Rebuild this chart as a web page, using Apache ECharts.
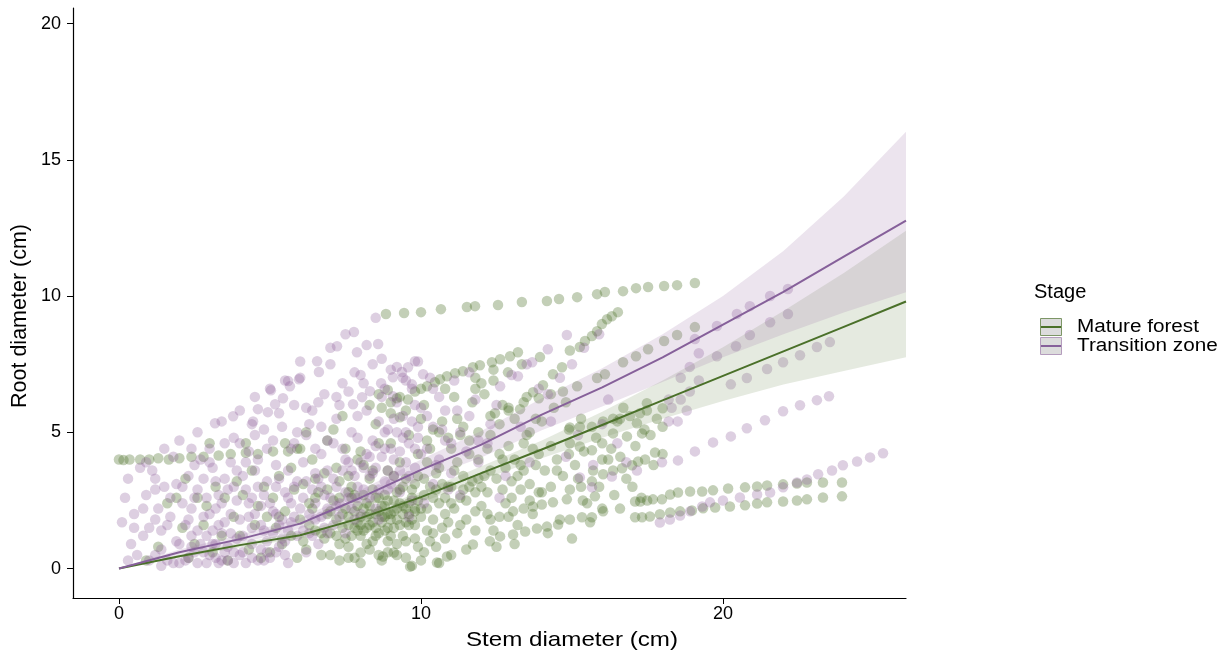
<!DOCTYPE html>
<html><head><meta charset="utf-8">
<script src="https://cdn.jsdelivr.net/npm/echarts@6/dist/echarts.min.js"></script>
<style>html,body{margin:0;padding:0;background:#fff}#c{width:1228px;height:657px}</style>
</head><body><div id="c"></div>
<script>
// ---- data: Mature forest points [stem, root]
const matureForest = [
[0.0,4.0],[0.15,3.98],[0.35,4.0],[0.7,4.0],[1.0,4.0],[1.3,4.05],[1.65,4.0],[2.0,4.05],[2.4,4.1],[2.8,4.1],[3.3,4.15],[3.7,4.2],[4.2,4.25],[4.6,4.2],[5.1,4.3],
[0.9,0.3],[1.3,0.8],[1.6,2.4],[1.9,2.6],[2.1,1.5],[2.3,0.4],[2.5,0.9],[2.6,2.6],[2.8,1.6],[2.9,2.3],[3.1,0.6],[3.2,3.0],[3.4,1.2],[3.5,2.6],[3.6,0.3],[3.8,1.9],[3.9,3.2],[4.0,1.2],[4.1,2.7],[4.3,0.7],[4.4,3.6],[4.5,1.6],[4.6,2.3],[4.7,0.4],[4.8,3.0],[4.9,1.9],[2.2,3.3],[3.0,4.6],[4.2,4.6],
[5.0,0.6],[5.1,2.6],[5.2,1.5],[5.3,3.4],[5.4,0.9],[5.5,2.1],[5.6,4.3],[5.7,1.2],[5.8,2.9],[5.9,0.4],[5.3,1.9],[5.7,3.7],[5.5,4.6],[5.9,4.4],
[6.0,1.8],[6.1,3.1],[6.2,0.7],[6.3,2.4],[6.4,4.0],[6.5,1.4],[6.6,2.8],[6.7,0.5],[6.8,3.5],[6.9,2.0],[6.2,5.0],[6.5,3.3],[6.8,1.1],[6.0,4.4],[6.9,4.7],[6.4,2.2],
[7.0,1.3],[7.1,2.5],[7.2,3.7],[7.3,0.9],[7.4,2.0],[7.5,4.4],[7.6,1.6],[7.7,3.0],[7.8,0.4],[7.9,2.3],[7.1,5.1],[7.3,3.2],[7.5,1.1],[7.7,2.6],[7.9,4.0],[7.2,1.8],[7.4,5.6],[7.6,2.8],[7.8,1.5],[7.0,0.5],[7.5,2.2],[7.9,1.7],
[8.0,1.9],[8.1,1.4],[8.2,2.4],[8.3,3.3],[8.4,1.0],[8.5,2.0],[8.6,4.6],[8.7,1.7],[8.8,2.7],[8.9,0.6],[8.1,3.8],[8.3,1.6],[8.5,5.3],[8.7,2.3],[8.9,3.6],[8.2,0.9],[8.4,2.9],[8.6,1.3],[8.8,1.9],[8.0,4.3],[8.5,2.6],[8.9,1.5],[8.3,6.0],[8.7,0.3],
[9.0,2.0],[9.1,1.5],[9.2,2.8],[9.3,3.9],[9.4,1.2],[9.5,2.2],[9.6,4.9],[9.7,1.8],[9.8,3.1],[9.9,0.8],[9.1,3.4],[9.3,2.4],[9.5,5.8],[9.7,2.6],[9.9,4.2],[9.2,0.5],[9.4,3.0],[9.6,1.6],[9.8,2.1],[9.0,4.6],[9.5,1.0],[9.9,2.5],[9.7,0.1],[9.3,6.3],
[7.6,1.9],[7.8,2.1],[8.0,1.6],[8.2,1.9],[8.4,1.7],[8.6,2.1],[8.8,2.3],[9.0,1.8],[9.2,2.2],[9.4,2.0],[9.6,2.4],[9.8,2.2],[8.1,2.2],[8.5,1.5],[9.1,2.5],[9.5,1.7],[8.3,2.0],[8.9,2.0],[9.3,1.6],[7.9,1.4],
[10.0,2.2],[10.1,3.3],[10.2,1.4],[10.3,4.4],[10.4,2.6],[10.5,0.8],[10.6,3.7],[10.7,5.4],[10.8,2.0],[10.9,3.0],[10.1,6.0],[10.3,1.0],[10.5,2.9],[10.7,1.5],[10.9,4.8],[10.2,3.9],[10.6,0.2],[10.8,6.6],[10.4,5.1],
[11.0,2.4],[11.1,3.6],[11.2,1.3],[11.3,4.9],[11.4,2.9],[11.5,0.7],[11.6,4.2],[11.7,6.1],[11.8,2.1],[11.9,3.3],[11.2,5.5],[11.5,1.8],[11.8,7.0],[11.0,0.5],[11.6,3.0],
[12.0,3.0],[12.2,4.4],[12.4,1.4],[12.6,5.3],[12.8,2.4],[12.1,6.4],[12.3,3.6],[12.5,0.8],[12.7,4.0],[12.9,1.9],[12.4,7.3],[12.9,5.8],
[13.0,3.2],[13.2,1.6],[13.4,4.6],[13.6,2.5],[13.8,5.5],[13.1,0.9],[13.3,3.8],[13.5,6.3],[13.7,2.0],[13.9,4.2],
[14.0,2.8],[14.3,4.5],[14.6,1.8],[14.9,5.1],[15.2,3.3],[15.5,2.4],[15.8,4.8],[14.5,3.6],[15.0,1.1],[15.3,5.5],[15.6,1.7],[15.9,3.0],[14.2,1.3],[14.8,6.1],[16.0,2.2],
[16.2,4.0],[16.5,5.4],[16.8,3.3],[17.1,4.5],[17.4,5.1],[17.7,3.8],[18.0,4.2],[16.4,2.7],[17.0,3.0],[17.6,4.9],[16.7,5.9],[17.3,2.6],
[8.7,5.9],[9.0,6.1],[9.3,5.55],[9.57,6.2],[9.8,6.5],[10.0,6.6],[10.2,6.69],[10.46,6.84],[10.63,6.95],[10.86,7.06],[11.13,7.17],[11.39,7.24],[11.72,7.39],[11.95,7.46],[12.35,7.57],[12.62,7.68],[12.95,7.79],[13.21,7.94],
[11.8,6.6],[12.4,6.9],[12.88,7.2],[13.34,7.5],[13.94,7.76],[8.6,6.4],[8.9,6.55],[9.2,6.25],[9.0,5.7],
[13.28,5.85],[13.71,6.47],[14.04,6.73],[14.37,7.13],[14.67,7.39],[14.93,8.0],[15.26,8.13],[15.43,8.35],[15.66,8.53],[15.83,8.71],[15.99,8.97],[16.16,9.15],[16.32,9.26],[16.52,9.41],
[8.84,9.34],[9.44,9.38],[10.0,9.41],[10.66,9.52],[11.52,9.6],[11.79,9.63],[12.55,9.67],[13.34,9.78],[14.17,9.82],[14.57,9.89],[15.17,9.96],[15.83,10.07],[16.09,10.15],[16.69,10.18],[17.12,10.29],[17.52,10.33],[18.05,10.37],[18.48,10.4],[19.07,10.48],
[12.45,5.7],[12.9,5.9],[13.4,6.1],[13.9,6.25],[14.3,6.4],[14.7,6.5],[15.17,6.69],[15.83,6.99],[16.09,7.13],[16.69,7.57],[17.12,7.79],[17.52,8.05],[18.05,8.35],[18.48,8.57],[19.07,8.86],
[14.93,5.18],[15.26,5.2],[15.66,5.2],[16.03,5.4],[16.36,5.5],[16.59,5.5],[16.92,5.6],[17.25,5.7],[17.48,5.8],[17.81,5.5],[18.0,5.2],[18.0,5.88],[17.48,6.07],[17.15,5.33],[17.32,4.96],[16.82,4.85],[16.36,4.96],[16.0,4.6],[15.66,4.34],[15.26,4.48],[14.93,4.6],
[14.93,2.9],[15.3,3.0],[15.66,3.2],[16.03,3.46],[16.36,3.6],[16.66,3.68],[16.99,3.79],[17.19,3.93],[17.42,4.0],[17.75,4.26],
[17.09,2.46],[17.26,2.46],[17.49,2.5],[17.68,2.54],[17.98,2.54],[18.25,2.72],[18.51,2.79],[18.91,2.83],[19.31,2.83],[19.67,2.87],[20.17,2.94],[20.73,2.98],[21.13,3.01],[21.46,3.05],[21.99,3.09],[22.45,3.12],[22.78,3.16],[23.31,3.16],[23.94,3.16],
[17.09,1.88],[17.32,1.88],[17.58,1.91],[17.91,1.99],[18.25,2.06],[18.58,2.1],[18.97,2.13],[19.34,2.21],[19.74,2.24],[20.23,2.28],[20.73,2.32],[21.13,2.39],[21.46,2.43],[21.99,2.46],[22.45,2.5],[22.78,2.54],[23.31,2.61],[23.94,2.65],
[14.93,1.8],[15.33,1.88],[15.66,1.88],[16.03,2.1],[16.59,2.2],[15.36,2.5],[15.76,2.65],
[9.64,0.07],[10.53,0.22],[10.86,0.44],[11.72,0.88],[12.28,1.0],[12.62,1.18],[13.05,1.25],[13.45,1.36],[13.84,1.47],[14.17,1.54],[14.54,1.62],
[12.3,1.8],[12.6,1.9],[13.05,2.1],[13.4,2.2],[13.71,2.28],[14.0,2.35],[14.37,2.43],[14.83,2.54],
[8.74,0.44],[9.1,0.59],[8.0,0.59],[7.6,0.4],
[6.1,1.0],[6.3,1.6],[6.5,2.6],[6.7,1.3],[6.9,2.9],[7.0,2.1],[7.2,1.2],[7.3,2.6],[7.4,1.5],[7.6,3.4],[7.7,1.2],[7.8,2.7],[8.0,1.2],[8.1,2.7],[8.2,1.5],[8.3,2.3],[8.4,3.6],[8.5,1.2],[8.6,2.6],[8.7,1.9],[8.8,1.4],[8.9,2.5],[9.0,1.2],[9.1,2.1],[9.2,1.8],[9.3,2.9],[9.4,2.3],[9.5,3.3],[9.6,2.0],[9.7,2.9],[9.8,1.6],[9.9,3.4],
[10.0,1.9],[10.1,2.7],[10.2,2.2],[10.3,3.0],[10.4,1.8],[10.5,3.5],[10.6,2.4],[10.7,3.1],[10.8,2.6],[10.9,1.7],[11.0,3.0],[11.1,2.2],[11.2,3.9],[11.3,2.6],[11.4,3.4],[11.5,2.5],[11.6,4.7],[11.7,3.2],[11.8,2.8],[11.9,4.0],
[12.0,2.3],[12.1,3.4],[12.2,2.8],[12.3,4.9],[12.5,3.3],[12.6,4.2],[12.7,2.9],[12.8,3.7],[12.9,4.5],[13.0,2.6],[13.1,4.0],[13.2,3.4],[13.3,2.9],[13.4,3.6],[13.5,4.9],[13.6,3.1],[13.7,4.4],[13.8,3.8],[13.9,2.8],
[14.1,3.6],[14.3,3.0],[14.5,4.0],[14.7,3.4],[14.9,4.2],[15.1,3.8],[15.4,4.3],[15.7,3.6],[16.0,4.0],[16.3,4.4],[16.6,4.1],
[10.2,4.7],[10.6,5.0],[11.0,4.4],[11.4,5.2],[11.9,5.0],[12.3,5.6],[12.7,6.0],[13.1,5.5],[13.6,5.0],[14.0,5.4],[14.4,5.9],[10.0,5.5],[11.1,6.3],[12.0,6.8],
[7.3,0.3],[7.6,0.8],[8.0,0.2],[8.3,0.7],[8.6,0.5],[8.9,1.0],[9.2,0.9],[9.5,0.4],[9.8,1.1],[10.1,0.6],[10.4,1.3],[10.8,1.1],[11.3,1.6],[11.8,1.4],[12.2,2.0],[10.0,0.3]
];
// ---- data: Transition zone points [stem, root]
const transitionZone = [
[0.1,1.7],[0.2,2.6],[0.3,3.3],[0.4,0.9],[0.5,2.0],[0.6,0.5],[0.7,3.7],[0.8,1.2],[0.9,2.7],[0.5,1.5],[0.3,0.3],
[1.1,3.6],[1.2,0.5],[1.3,2.2],[1.4,1.4],[1.5,3.0],[1.6,0.3],[1.7,2.6],[1.8,4.1],[1.9,1.0],[1.2,1.8],[1.5,4.4],[1.8,0.2],[1.6,1.6],
[2.0,4.7],[2.1,2.4],[2.2,0.3],[2.3,3.4],[2.4,1.2],[2.5,0.6],[2.6,2.9],[2.7,4.0],[2.8,1.9],[2.9,0.2],[2.2,1.6],[2.5,3.8],[2.7,0.9],[2.9,2.6],[2.4,2.2],[2.6,5.0],
[3.0,4.4],[3.1,1.4],[3.2,0.4],[3.3,2.7],[3.4,5.4],[3.5,3.3],[3.6,0.8],[3.7,2.0],[3.8,4.8],[3.9,1.1],[3.1,3.7],[3.3,0.2],[3.5,1.7],[3.7,3.9],[3.9,2.5],[3.2,2.2],[3.6,0.3],[3.8,3.0],[3.4,1.3],
[4.0,5.8],[4.1,0.6],[4.2,2.9],[4.3,4.3],[4.4,1.5],[4.5,3.6],[4.6,0.3],[4.7,2.3],[4.8,5.1],[4.9,1.0],[4.1,3.4],[4.3,1.9],[4.5,4.9],[4.7,0.7],[4.9,3.2],[4.2,0.2],[4.4,2.6],[4.6,4.0],[4.8,1.4],[4.5,6.3],
[5.0,6.6],[5.1,2.1],[5.2,3.8],[5.3,0.8],[5.4,5.2],[5.5,2.8],[5.6,1.4],[5.7,4.4],[5.8,6.0],[5.9,3.2],[5.1,4.7],[5.3,1.6],[5.5,0.5],[5.7,2.4],[5.9,5.0],[5.2,3.0],[5.4,1.1],[5.6,3.6],[5.8,1.9],[5.0,0.4],[5.5,6.9],
[6.0,7.0],[6.1,2.6],[6.2,4.9],[6.3,1.3],[6.4,5.8],[6.5,3.5],[6.6,0.9],[6.7,4.2],[6.8,6.4],[6.9,2.2],[6.1,3.9],[6.3,5.3],[6.5,1.8],[6.7,3.0],[6.9,4.7],[6.2,0.6],[6.4,2.9],[6.6,6.1],[6.8,1.5],[6.0,7.6],[6.5,4.4],[6.9,3.6],
[7.0,8.1],[7.1,3.3],[7.2,5.5],[7.3,1.9],[7.4,6.8],[7.5,4.0],[7.6,2.6],[7.7,5.0],[7.8,7.2],[7.9,3.0],[7.1,4.6],[7.3,6.0],[7.5,1.3],[7.7,3.6],[7.9,5.6],[7.2,2.3],[7.4,4.4],[7.6,6.5],[7.8,1.8],[7.5,8.6],[7.0,7.5],[7.9,4.8],
[8.0,7.1],[8.1,3.7],[8.2,5.8],[8.3,2.6],[8.4,7.5],[8.5,4.5],[8.6,1.8],[8.7,6.3],[8.8,3.2],[8.9,5.1],[8.1,6.8],[8.3,4.1],[8.5,2.2],[8.7,7.7],[8.9,2.9],[8.2,8.2],[8.4,3.5],[8.6,5.4],[8.8,6.6],[8.0,2.0],[8.5,9.2],[8.8,4.4],
[9.0,7.3],[9.1,4.0],[9.2,6.1],[9.3,2.8],[9.4,7.0],[9.5,5.0],[9.6,3.4],[9.7,6.6],[9.8,4.4],[9.9,7.6],[9.1,5.5],[9.3,3.6],[9.5,6.9],[9.7,2.5],[9.9,5.2],[9.2,7.4],[9.4,4.8],[9.6,1.9],[9.8,6.0],[9.0,3.1],
[10.0,4.2],[10.2,5.6],[10.4,3.1],[10.6,6.3],[10.8,4.7],[10.1,2.4],[10.3,7.0],[10.5,3.8],[10.7,5.1],[10.9,2.9],[10.4,6.6],
[11.0,3.5],[11.2,5.8],[11.5,4.3],[11.8,6.2],[11.3,2.7],[11.6,7.2],[11.9,3.9],[11.1,6.9],
[12.2,4.6],[12.5,6.0],[12.8,3.4],[13.0,7.1],[13.3,5.2],[13.6,3.9],[13.9,6.6],[12.6,2.6],[13.5,7.5],
[14.2,6.4],[14.6,7.0],[15.0,7.5],[15.4,8.1],[15.9,8.6],[14.3,5.4],[15.2,4.9],[16.0,5.3],[16.5,4.6],[15.7,3.8],[14.8,4.1],[16.2,6.2],[16.8,3.9],
[1.0,0.3],[1.4,0.1],[2.0,0.2],[2.3,0.4],[2.6,0.2],[3.0,0.5],[3.4,0.3],[3.8,0.2],[4.0,0.5],[4.4,0.4],[4.8,0.3],[5.2,0.6],[5.6,0.2],[3.2,0.9],[2.8,0.6],
[7.22,8.16],[6.56,7.61],[6.62,7.21],[5.6,6.88],[5.96,6.95],[5.66,6.69],[5.03,6.54],[5.43,6.25],[5.17,6.03],[4.93,5.74],[4.6,5.85],[3.78,5.59],[4.44,5.4],[3.18,5.33],
[7.78,8.68],[8.58,8.24],[7.88,7.94],[9.8,7.61],[9.57,7.39],[9.37,7.21],[9.07,7.02],[10.07,7.13],[8.68,6.8],[8.31,6.51],[8.05,6.29],[7.75,6.03],[9.07,6.32],[9.7,6.76],
[14.2,8.05],[14.83,8.57],[13.68,7.57],[13.21,7.06],[12.62,6.69],
[17.98,3.9],[18.51,3.97],[19.07,4.3],[19.67,4.63],[20.26,4.85],[20.79,5.15],[21.39,5.44],[21.99,5.77],[22.55,5.99],[23.11,6.18],[23.51,6.32],
[17.91,1.69],[18.24,1.8],[18.58,1.95],[18.91,2.1],[19.31,2.28],[19.57,2.43],[20.0,2.5],[20.56,2.61],[21.13,2.72],[21.56,2.79],[21.99,2.98],[22.45,3.16],[22.78,3.27],[23.15,3.46],[23.61,3.6],[23.97,3.79],[24.44,3.93],[24.87,4.08],[25.3,4.23],
[19.07,8.42],[19.8,8.9],[20.46,9.34],[20.89,9.63],[21.56,10.0],[22.15,10.26],
[19.8,7.79],[20.43,8.16],[20.89,8.57],[21.56,9.04],[22.15,9.34],
[20.26,6.76],[20.79,6.99],[21.46,7.32],[21.99,7.57],[22.55,7.83],[23.11,8.13],[23.54,8.31],
[18.2,6.2],[18.6,6.2],[18.9,6.5],[19.2,6.9],[18.9,7.4],[19.2,7.9],[18.6,7.0],[18.3,5.9],[18.2,5.4],[18.5,5.4],[18.8,5.8],
[15.26,3.34],[15.66,2.98],[16.32,3.38],[17.15,3.6],
[0.8,2.2],[1.0,1.5],[1.2,2.9],[1.4,0.7],[1.7,1.9],[1.9,3.1],[2.0,0.9],[2.1,3.0],[2.3,1.8],[2.4,0.8],[2.5,2.6],[2.6,1.4],[2.8,3.3],[2.9,1.2],[3.0,2.0],[3.1,0.9],[3.2,3.2],[3.3,1.6],[3.4,2.4],[3.5,0.6],[3.6,2.9],[3.7,1.3],[3.8,0.6],[3.9,3.6],
[4.0,1.8],[4.1,1.2],[4.2,3.9],[4.3,2.4],[4.4,0.9],[4.5,2.0],[4.6,3.0],[4.7,1.6],[4.8,2.7],[4.9,0.6],[5.0,2.4],[5.1,1.3],[5.2,2.0],[5.3,3.3],[5.4,1.8],[5.5,1.0],[5.6,2.6],[5.7,1.7],[5.8,3.0],[5.9,1.2],
[6.0,2.2],[6.1,1.4],[6.2,3.2],[6.3,2.0],[6.4,1.2],[6.5,2.4],[6.6,3.3],[6.7,1.9],[6.8,2.7],[6.9,1.3],[7.0,2.6],[7.1,1.6],[7.2,3.0],[7.3,2.4],[7.4,3.6],[7.5,2.8],[7.6,3.9],[7.7,2.2],[7.8,3.4],[7.9,2.6],
[8.0,3.9],[8.1,2.9],[8.2,4.2],[8.3,3.4],[8.4,4.7],[8.5,3.7],[8.6,2.9],[8.7,4.1],[8.8,5.0],[8.9,3.6],[9.0,4.4],[9.1,3.4],[9.2,5.0],[9.3,4.3],[9.4,5.6],[9.5,3.9],[9.6,4.6],[9.7,5.4],[9.8,3.7],[9.9,4.8],
[10.0,5.9],[10.2,4.4],[10.4,5.2],[10.6,4.0],[10.8,5.8],[11.0,4.6],[11.3,5.0],[11.6,5.6],[11.9,4.7],[12.3,5.3],
[3.0,3.9],[3.5,4.6],[4.0,4.6],[4.4,5.3],[4.9,4.4],[5.3,5.7],[5.8,4.6],[6.2,5.9],[6.7,5.2],[7.2,6.3],[2.4,4.4],[1.2,3.3],[0.9,3.9]
];
// ---- fitted curves
const fitX = [0,2,4,6,8,10,12,14,16,18,20,22,24,26.06];
const matureMean  = [0,0.45,0.86,1.22,1.85,2.62,3.5,4.37,5.27,6.17,7.07,7.97,8.87,9.8];
const matureLower = [0,0.4,0.77,1.1,1.7,2.42,3.25,4.05,4.8,5.5,6.15,6.75,7.25,7.75];
const matureUpper = [0,0.5,0.94,1.34,2.0,2.82,3.75,4.7,5.75,6.9,8.12,9.45,10.85,12.4];
const transMean  = [0,0.6,1.08,1.65,2.6,3.62,4.55,5.65,6.65,7.75,8.95,10.15,11.45,12.77];
const transLower = [0,0.5,0.93,1.46,2.33,3.25,4.08,5.08,5.95,6.85,7.75,8.6,9.4,10.14];
const transUpper = [0,0.7,1.24,1.85,2.88,4.0,5.05,6.25,7.35,8.6,10.0,11.65,13.65,16.03];
const xTicks = [0,10,20];
const yTicks = [0,5,10,15,20];
const stages = ['Mature forest','Transition zone'];

const GREEN = '#4a7029', PURPLE = '#86609a';
const FONT = 'Liberation Sans, Arial, sans-serif';

function ribbon(name, lower, upper, fill){
  return {
    type:'custom', name:name, silent:true, z:3, clip:true,
    data:[[0,0]],
    renderItem:function(params, api){
      const pts=[];
      for(let i=0;i<fitX.length;i++) pts.push(api.coord([fitX[i], upper[i]]));
      for(let i=fitX.length-1;i>=0;i--) pts.push(api.coord([fitX[i], lower[i]]));
      return {type:'polygon', shape:{points:pts}, style:{fill:fill}};
    }
  };
}
function line(name, mean, color){
  return {type:'line', name:name, z:4, symbol:'none', smooth:false, silent:true,
    data: fitX.map((x,i)=>[x, mean[i]]), lineStyle:{color:color, width:2, join:'round'}};
}

const chart = echarts.init(document.getElementById('c'), null, {renderer:'canvas'});
chart.setOption({
  animation:false,
  backgroundColor:'#ffffff',
  grid:{left:73, top:8, width:833, height:590, containLabel:false},
  xAxis:{type:'value', min:-1.523, max:26.06,
    axisLine:{onZero:false, lineStyle:{color:'#000', width:1.2}},
    axisTick:{length:6, lineStyle:{color:'#000'}, customValues:xTicks},
    axisLabel:{customValues:xTicks, color:'#000', fontSize:18, fontFamily:FONT, margin:7},
    splitLine:{show:false}},
  yAxis:{type:'value', min:-1.08, max:20.57,
    axisLine:{show:true, onZero:false, lineStyle:{color:'#000', width:1.2}},
    axisTick:{show:true, length:6, lineStyle:{color:'#000'}, customValues:yTicks},
    axisLabel:{customValues:yTicks, color:'#000', fontSize:18, fontFamily:FONT, margin:12},
    splitLine:{show:false}},
  graphic:[
    {type:'text', x:572, y:640, scaleX:1.15, style:{text:'Stem diameter (cm)', fontSize:21, fontFamily:FONT, fill:'#000', align:'center', verticalAlign:'middle'}},
    {type:'text', x:20, y:316, rotation:Math.PI/2, style:{text:'Root diameter (cm)', fontSize:21.5, fontFamily:FONT, fill:'#000', align:'center', verticalAlign:'middle'}},
    {type:'text', x:1034, y:292, style:{text:'Stage', fontSize:20, fontFamily:FONT, fill:'#000', verticalAlign:'middle'}},
    {type:'rect', shape:{x:1040.5, y:318.5, width:21, height:17}, style:{fill:'#dcdcdc', stroke:'#7d9666', lineWidth:1}},
    {type:'line', shape:{x1:1041, y1:327, x2:1061, y2:327}, style:{stroke:GREEN, lineWidth:2}},
    {type:'rect', shape:{x:1040.5, y:337.5, width:21, height:17}, style:{fill:'#dcdcdc', stroke:'#b49cbd', lineWidth:1}},
    {type:'line', shape:{x1:1041, y1:346, x2:1061, y2:346}, style:{stroke:PURPLE, lineWidth:2}},
    {type:'text', x:1077, y:327, scaleX:1.15, style:{text:stages[0], fontSize:18, fontFamily:FONT, fill:'#000', verticalAlign:'middle'}},
    {type:'text', x:1077, y:346, scaleX:1.15, style:{text:stages[1], fontSize:18, fontFamily:FONT, fill:'#000', verticalAlign:'middle'}}
  ],
  series:[
    {type:'scatter', name:stages[0], data:matureForest, symbolSize:10.5, z:2, silent:true,
      itemStyle:{color:'rgba(78,112,42,0.42)'}},
    {type:'scatter', name:stages[1], data:transitionZone, symbolSize:10.5, z:2, silent:true,
      itemStyle:{color:'rgba(138,88,150,0.36)'}},
    ribbon(stages[0], matureLower, matureUpper, 'rgba(125,150,100,0.2)'),
    ribbon(stages[1], transLower, transUpper, 'rgba(160,120,170,0.2)'),
    line(stages[0], matureMean, GREEN),
    line(stages[1], transMean, PURPLE)
  ]
});
</script>
</body></html>
